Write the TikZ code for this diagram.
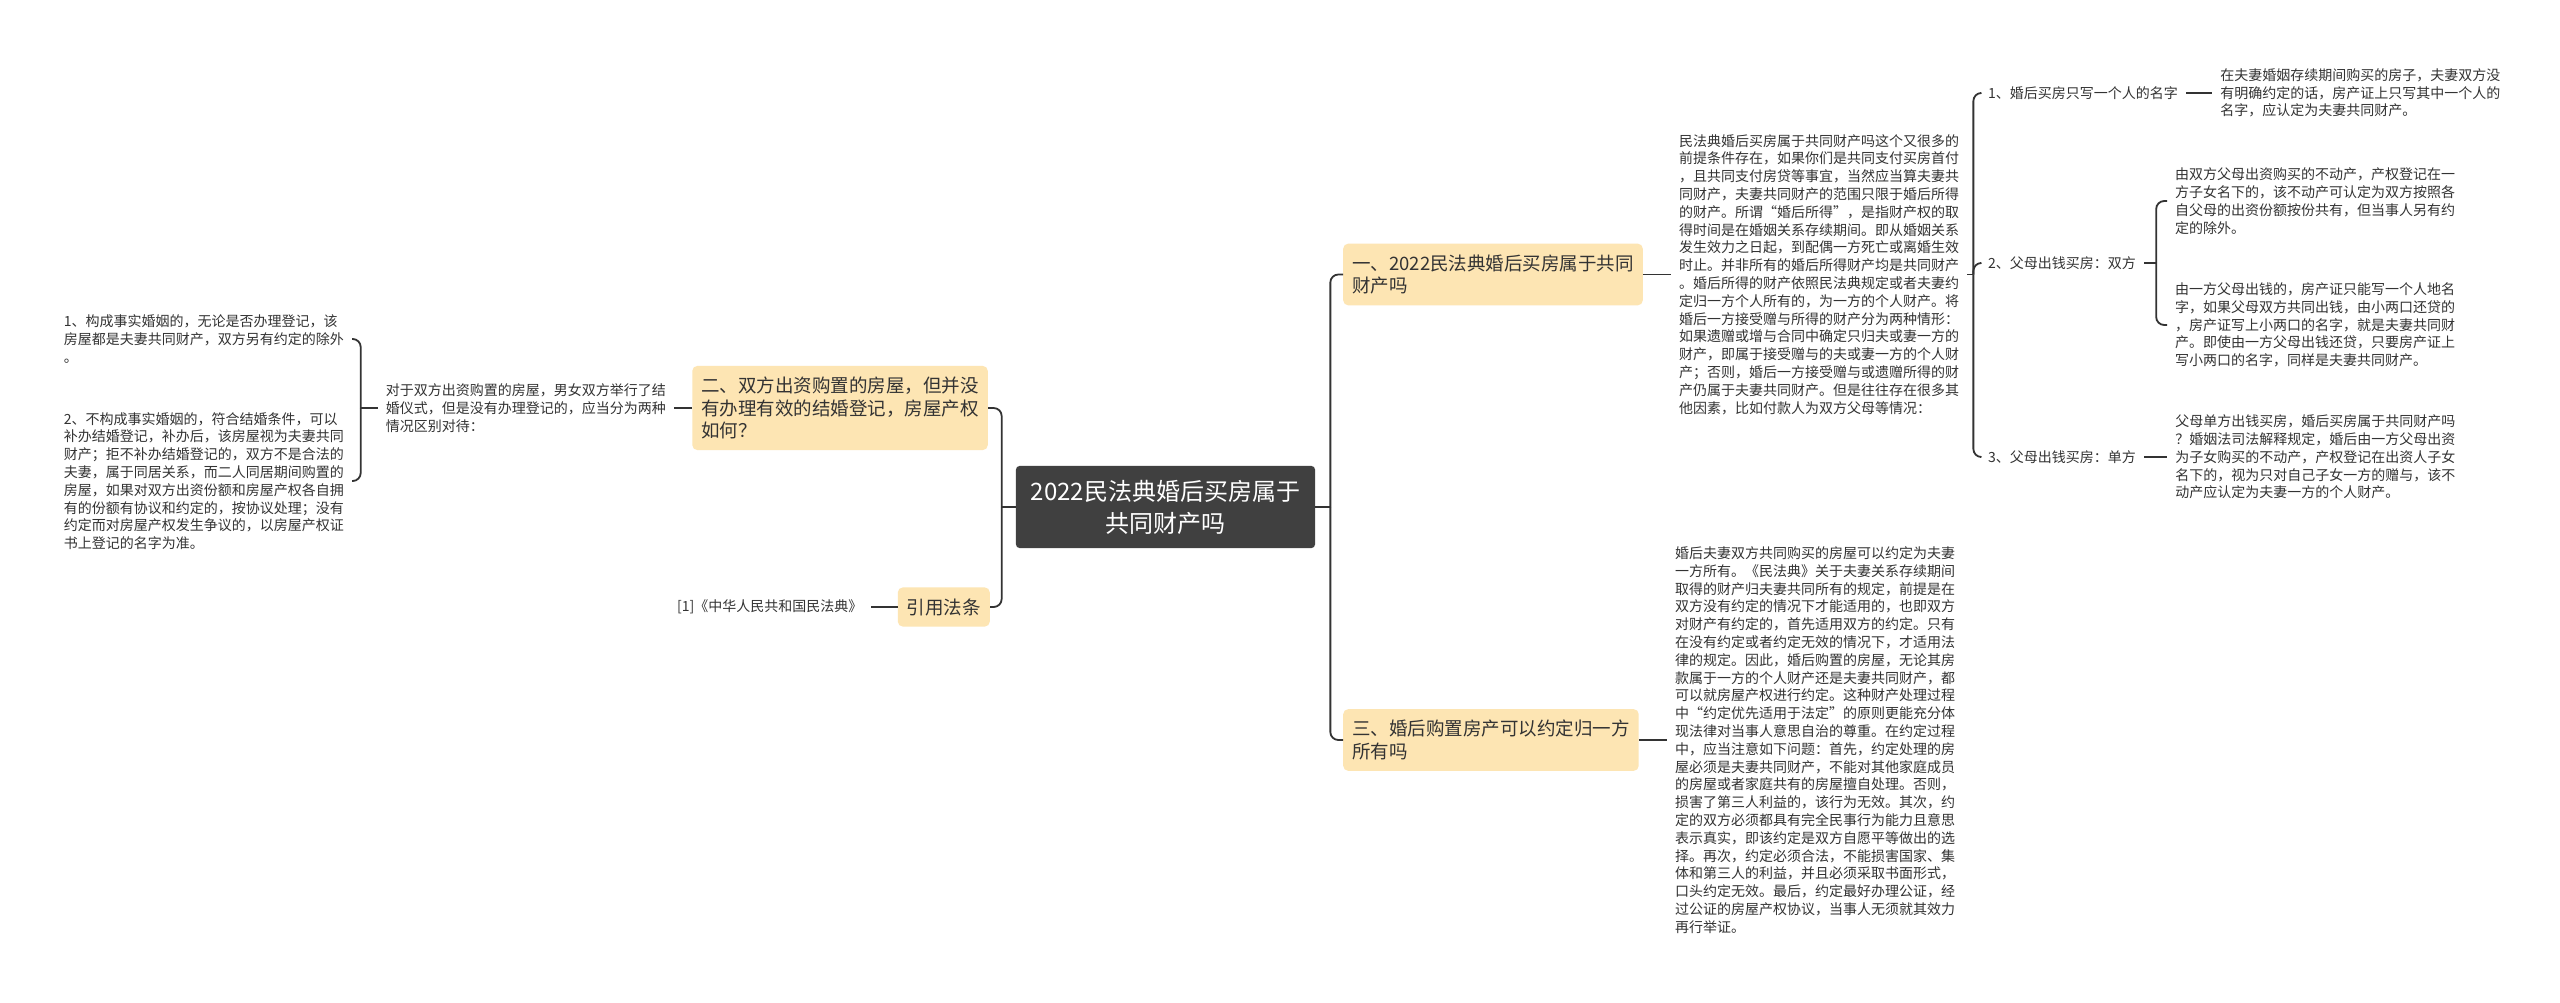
\documentclass[tikz,border=0pt]{standalone}
\usepackage{fontspec}
\setmainfont{Noto Sans CJK SC}
\usepackage{tikz}
\usetikzlibrary{positioning,calc}
\definecolor{rootgray}{RGB}{64,64,64}
\definecolor{topicfill}{RGB}{253,229,179}
\definecolor{linegray}{RGB}{51,51,51}
\definecolor{textgray}{RGB}{51,51,51}
\newcommand{\rootsize}{\fontsize{24}{32}\selectfont}
\newcommand{\topicsize}{\fontsize{18.5}{22.5}\selectfont}
\newcommand{\leafsize}{\fontsize{14}{17.8}\selectfont}
\tikzset{
  centre/.style  ={rectangle, rounded corners=4pt, fill=rootgray, text=white, align=center,
                   inner xsep=15pt, inner ysep=14pt, font=\rootsize},
  topicbox/.style={rectangle, rounded corners=5pt, fill=topicfill, text=textgray, align=left,
                   inner xsep=9pt, inner ysep=11pt, font=\topicsize},
  leaftext/.style={align=left, text=textgray, inner xsep=8pt, inner ysep=2pt, font=\leafsize},
  conn/.style    ={draw=linegray, line width=1.8pt, rounded corners=8pt}
}
\begin{document}
\begin{tikzpicture}[x=1pt, y=-1pt]
  \fill[white] (0,0) rectangle (2560,1003);
  \useasboundingbox (0,0) rectangle (2560,1003);

  \node[centre] (ctr) at (1165.5,507) {2022民法典婚后买房属于\\共同财产吗};

  \node[topicbox, anchor=west] (t1) at (1343,274.5) {一、2022民法典婚后买房属于共同\\财产吗};
  \node[topicbox, anchor=west] (t3) at (1343,740) {三、婚后购置房产可以约定归一方\\所有吗};
  \node[topicbox, anchor=east] (t2) at (988,408) {二、双方出资购置的房屋，但并没\\有办理有效的结婚登记，房屋产权\\如何？};
  \node[topicbox, anchor=east] (law) at (990,607) {引用法条};

  \node[leaftext, left=27pt of law] (lawref) {[1]《中华人民共和国民法典》};
  \node[leaftext, left=18pt of t2] (t2note) {对于双方出资购置的房屋，男女双方举行了结\\婚仪式，但是没有办理登记的，应当分为两种\\情况区别对待：};
  \node[leaftext, anchor=east] (marr1) at (352,339) {1、构成事实婚姻的，无论是否办理登记，该\\房屋都是夫妻共同财产，双方另有约定的除外\\。};
  \node[leaftext, anchor=east] (marr2) at (352,481) {2、不构成事实婚姻的，符合结婚条件，可以\\补办结婚登记，补办后，该房屋视为夫妻共同\\财产；拒不补办结婚登记的，双方不是合法的\\夫妻，属于同居关系，而二人同居期间购置的\\房屋，如果对双方出资份额和房屋产权各自拥\\有的份额有协议和约定的，按协议处理；没有\\约定而对房屋产权发生争议的，以房屋产权证\\书上登记的名字为准。};

  \node[leaftext, right=28pt of t1] (t1note) {民法典婚后买房属于共同财产吗这个又很多的\\前提条件存在，如果你们是共同支付买房首付\\，且共同支付房贷等事宜，当然应当算夫妻共\\同财产，夫妻共同财产的范围只限于婚后所得\\的财产。所谓“婚后所得”，是指财产权的取\\得时间是在婚姻关系存续期间。即从婚姻关系\\发生效力之日起，到配偶一方死亡或离婚生效\\时止。并非所有的婚后所得财产均是共同财产\\。婚后所得的财产依照民法典规定或者夫妻约\\定归一方个人所有的，为一方的个人财产。将\\婚后一方接受赠与所得的财产分为两种情形：\\如果遗赠或增与合同中确定只归夫或妻一方的\\财产，即属于接受赠与的夫或妻一方的个人财\\产；否则，婚后一方接受赠与或遗赠所得的财\\产仍属于夫妻共同财产。但是往往存在很多其\\他因素，比如付款人为双方父母等情况：};
  \node[leaftext, right=28pt of t3] (t3note) {婚后夫妻双方共同购买的房屋可以约定为夫妻\\一方所有。《民法典》关于夫妻关系存续期间\\取得的财产归夫妻共同所有的规定，前提是在\\双方没有约定的情况下才能适用的，也即双方\\对财产有约定的，首先适用双方的约定。只有\\在没有约定或者约定无效的情况下，才适用法\\律的规定。因此，婚后购置的房屋，无论其房\\款属于一方的个人财产还是夫妻共同财产，都\\可以就房屋产权进行约定。这种财产处理过程\\中“约定优先适用于法定”的原则更能充分体\\现法律对当事人意思自治的尊重。在约定过程\\中，应当注意如下问题：首先，约定处理的房\\屋必须是夫妻共同财产，不能对其他家庭成员\\的房屋或者家庭共有的房屋擅自处理。否则，\\损害了第三人利益的，该行为无效。其次，约\\定的双方必须都具有完全民事行为能力且意思\\表示真实，即该约定是双方自愿平等做出的选\\择。再次，约定必须合法，不能损害国家、集\\体和第三人的利益，并且必须采取书面形式，\\口头约定无效。最后，约定最好办理公证，经\\过公证的房屋产权协议，当事人无须就其效力\\再行举证。};

  \node[leaftext, anchor=west] (one) at (1980,93) {1、婚后买房只写一个人的名字};
  \node[leaftext, anchor=west] (two) at (1980,263) {2、父母出钱买房：双方};
  \node[leaftext, anchor=west] (three) at (1980,457) {3、父母出钱买房：单方};
  \node[leaftext, right=26pt of one] (onenote) {在夫妻婚姻存续期间购买的房子，夫妻双方没\\有明确约定的话，房产证上只写其中一个人的\\名字，应认定为夫妻共同财产。};
  \node[leaftext, anchor=west] (twoa) at (2167,201) {由双方父母出资购买的不动产，产权登记在一\\方子女名下的，该不动产可认定为双方按照各\\自父母的出资份额按份共有，但当事人另有约\\定的除外。};
  \node[leaftext, anchor=west] (twob) at (2167,325) {由一方父母出钱的，房产证只能写一个人地名\\字，如果父母双方共同出钱，由小两口还贷的\\，房产证写上小两口的名字，就是夫妻共同财\\产。即使由一方父母出钱还贷，只要房产证上\\写小两口的名字，同样是夫妻共同财产。};
  \node[leaftext, right=23pt of three] (threenote) {父母单方出钱买房，婚后买房属于共同财产吗\\？婚姻法司法解释规定，婚后由一方父母出资\\为子女购买的不动产，产权登记在出资人子女\\名下的，视为只对自己子女一方的赠与，该不\\动产应认定为夫妻一方的个人财产。};

  \coordinate (rtrunk) at ($(ctr.east)+(15,0)$);
  \coordinate (ltrunk) at ($(ctr.west)+(-14,0)$);
  \coordinate (ntrunk) at ($(t1note.east)+(6,0)$);
  \coordinate (twobr) at ($(two.east)+(12,0)$);
  \coordinate (mbr) at ($(t2note.west)+(-17,0)$);

  \draw[conn] (ctr.east) -- (rtrunk);
  \draw[conn] (rtrunk) |- (t1.west);
  \draw[conn] (rtrunk) |- (t3.west);
  \draw[conn] (ctr.west) -- (ltrunk);
  \draw[conn] (ltrunk) |- (t2.east);
  \draw[conn] (ltrunk) |- (law.east);
  \draw[conn] (law.west) -- (lawref.east);
  \draw[conn] (t2.west) -- (t2note.east);
  \draw[conn] (t2note.west) -- (mbr);
  \draw[conn] (mbr) |- (marr1.east);
  \draw[conn] (mbr) |- (marr2.east);
  \draw[conn] (t1.east) -- (t1note.west);
  \draw[conn] (t3.east) -- (t3note.west);
  \draw[conn] (t1note.east) -- (ntrunk);
  \draw[conn] (ntrunk) |- (one.west);
  \draw[conn] (ntrunk) |- (two.west);
  \draw[conn] (ntrunk) |- (three.west);
  \draw[conn] (one.east) -- (onenote.west);
  \draw[conn] (two.east) -- (twobr);
  \draw[conn] (twobr) |- (twoa.west);
  \draw[conn] (twobr) |- (twob.west);
  \draw[conn] (three.east) -- (threenote.west);
\end{tikzpicture}
\end{document}
